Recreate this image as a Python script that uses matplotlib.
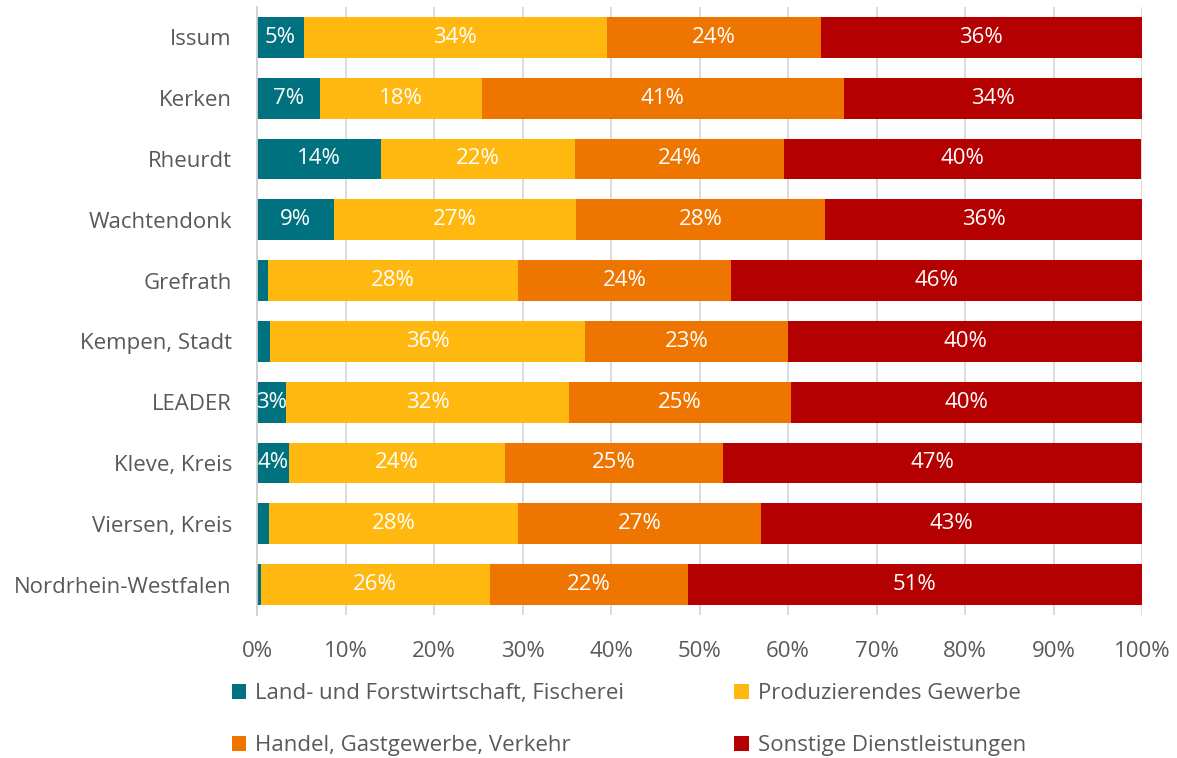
import matplotlib
matplotlib.use("Agg")
import matplotlib.pyplot as plt
import numpy as np
from matplotlib.ticker import FuncFormatter

plt.rcParams['font.family'] = ['Open Sans', 'DejaVu Sans']

regions = ["Issum", "Kerken", "Rheurdt", "Wachtendonk", "Grefrath", "Kempen, Stadt",
           "LEADER", "Kleve, Kreis", "Viersen, Kreis", "Nordrhein-Westfalen"]

series_names = ["Land- und Forstwirtschaft, Fischerei", "Produzierendes Gewerbe",
                "Handel, Gastgewerbe, Verkehr", "Sonstige Dienstleistungen"]

land = [5.3, 7.1, 14.0, 8.7, 1.2, 1.5, 3.3, 3.6, 1.4, 0.4]
prod = [34.2, 18.3, 21.9, 27.4, 28.3, 35.6, 32.0, 24.4, 28.1, 25.9]
handel = [24.2, 40.9, 23.7, 28.1, 24.1, 22.9, 25.0, 24.6, 27.4, 22.4]
sonst = [36.3, 33.7, 40.3, 35.8, 46.4, 40.0, 39.7, 47.4, 43.1, 51.3]

colors = ["#00727F", "#FFB80F", "#EE7600", "#B40000"]
fs = 16

fig = plt.figure(figsize=(11.77, 7.58), dpi=100)
ax = fig.add_axes([257 / 1177, 1 - 615 / 758, (1142 - 257) / 1177, (615 - 7) / 758])

y = np.arange(len(regions))
left = np.zeros(len(regions))
handles = []
for name, vals, col in zip(series_names, [land, prod, handel, sonst], colors):
    vals = np.array(vals)
    bars = ax.barh(y, vals, left=left, height=0.67, color=col, label=name, zorder=2)
    handles.append(bars)
    labels = [f"{v:.0f}%" if v >= 2 else "" for v in vals]
    ax.bar_label(bars, labels=labels, label_type="center", color="white", fontsize=fs, zorder=4)
    left += vals

ax.set_xlim(0, 100)
ax.set_ylim(len(regions) - 0.5, -0.5)
ax.set_xticks(np.arange(0, 101, 10))
ax.xaxis.set_major_formatter(FuncFormatter(lambda v, p: f"{v:.0f}%"))
ax.set_yticks(y)
ax.set_yticklabels(regions)
ax.tick_params(axis="both", length=0, labelsize=fs, labelcolor="#595959")
ax.tick_params(axis="x", pad=18.5)
ax.tick_params(axis="y", pad=18)
ax.grid(axis="x", color="#d9d9d9", linewidth=1.3, zorder=0)
for s in ["top", "right", "bottom"]:
    ax.spines[s].set_visible(False)
ax.spines["left"].set_color("#d0d0d0")
ax.spines["left"].set_linewidth(1.3)

# legend is filled row by row in the original, matplotlib fills by column
order = [0, 2, 1, 3]
leg = fig.legend(handles=[handles[i] for i in order], labels=[series_names[i] for i in order],
                 ncol=2, loc="upper left", bbox_to_anchor=(212 / 1177, 1 - 663 / 758),
                 frameon=False, fontsize=fs, handlelength=0.65, handleheight=0.65,
                 handletextpad=0.4, columnspacing=4.95, labelspacing=1.4)
for t in leg.get_texts():
    t.set_color("#595959")

fig.savefig("out.png", dpi=100)
